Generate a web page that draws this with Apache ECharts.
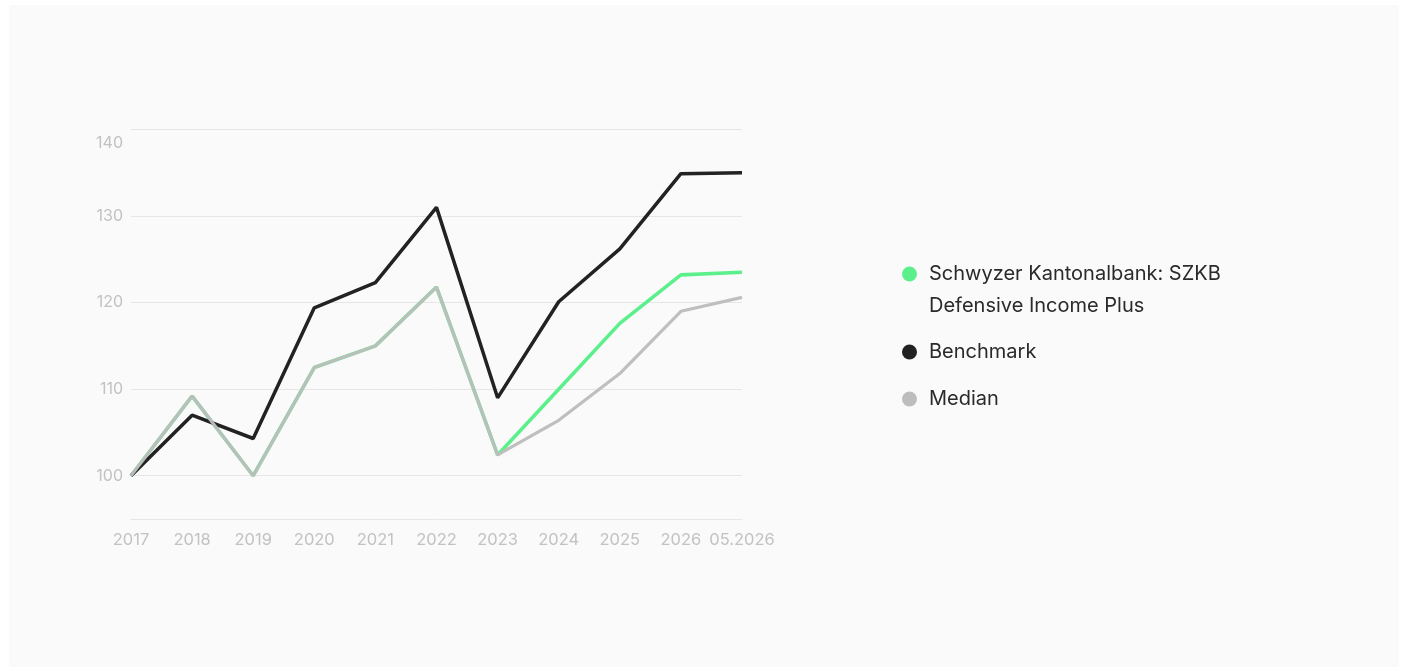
<!DOCTYPE html>
<html>
<head>
<meta charset="utf-8">
<script src="https://cdn.jsdelivr.net/npm/echarts@6/dist/echarts.min.js"></script>
<style>
html,body{margin:0;padding:0;background:#ffffff;width:1404px;height:667px;overflow:hidden;}
#panel{position:absolute;left:9px;top:5px;width:1390px;height:662px;background:#fafafa;}
#chart{position:absolute;left:0;top:0;width:1404px;height:667px;}
</style>
</head>
<body>
<div id="panel"></div>
<div id="chart"></div>
<script>
const categories = ['2017','2018','2019','2020','2021','2022','2023','2024','2025','2026','05.2026'];
const fundName = 'Schwyzer Kantonalbank: SZKB Defensive Income Plus';
const fundValues = [100, 109.2, 100, 112.5, 115.0, 121.8, 102.4, 110.0, 117.6, 123.2, 123.5];
const benchmarkValues = [100, 107.0, 104.3, 119.4, 122.3, 131.0, 109.0, 120.1, 126.2, 134.9, 135.0];
const medianValues = [100, 109.2, 100, 112.5, 115.0, 121.8, 102.4, 106.4, 111.8, 119.0, 120.6];
const yMin = 95, yMax = 140, yStep = 5;

const chart = echarts.init(document.getElementById('chart'));
const font = 'Inter, "Noto Sans", sans-serif';
const legendBase = {
  orient: 'vertical', left: 902, padding: 0, itemWidth: 15, itemHeight: 15,
  icon: 'circle', selectedMode: false
};
const legendText = { color: '#2a2a2a', fontSize: 20, lineHeight: 32, fontFamily: font, padding: [0, 0, 0, 7] };
chart.setOption({
  backgroundColor: 'transparent',
  animation: false,
  textStyle: { fontFamily: font },
  grid: { left: 131, right: 662, top: 129.5, bottom: 148, containLabel: false },
  xAxis: {
    type: 'category', data: categories, boundaryGap: false,
    axisLine: { show: true, lineStyle: { color: '#e6e6e6', width: 1 } },
    axisTick: { show: false },
    axisLabel: { color: '#c2c2c2', fontSize: 16.5, margin: 13, fontFamily: font, interval: 0 },
    splitLine: { show: false }
  },
  yAxis: {
    type: 'value', min: yMin, max: yMax, interval: yStep,
    axisLine: { show: false }, axisTick: { show: false },
    axisLabel: {
      color: '#c2c2c2', fontSize: 16, margin: 8, fontFamily: font,
      formatter: function (v) {
        if (v % 10 !== 0) return '';
        if (v === yMax) return '{t|' + v + '}';
        return String(v);
      },
      rich: { t: { color: '#c2c2c2', fontSize: 16, fontFamily: font, padding: [27, 0, 0, 0] } }
    },
    splitLine: { show: true, lineStyle: { color: ['transparent', '#e6e6e6'], width: 1 } }
  },
  legend: [
    Object.assign({}, legendBase, {
      top: 226, data: [fundName],
      formatter: function (n) { return ' \n' + n.replace(': SZKB ', ': SZKB\n'); },
      textStyle: legendText
    }),
    Object.assign({}, legendBase, { top: 336, data: ['Benchmark'], textStyle: legendText }),
    Object.assign({}, legendBase, { top: 383, data: ['Median'], textStyle: legendText })
  ],
  series: [
    {
      name: fundName, type: 'line', data: fundValues, showSymbol: false, symbol: 'circle',
      lineStyle: { color: '#5cf08c', width: 3.6 }, itemStyle: { color: '#5cf08c' }, z: 2
    },
    {
      name: 'Benchmark', type: 'line', data: benchmarkValues, showSymbol: false, symbol: 'circle',
      lineStyle: { color: '#222222', width: 3.5 }, itemStyle: { color: '#222222' }, z: 3
    },
    {
      name: 'Median', type: 'line', data: medianValues, showSymbol: false, symbol: 'circle',
      lineStyle: { color: '#bdbdbd', width: 3.2, opacity: 0.97 }, itemStyle: { color: '#bdbdbd' }, z: 4
    }
  ]
});
</script>
</body>
</html>
